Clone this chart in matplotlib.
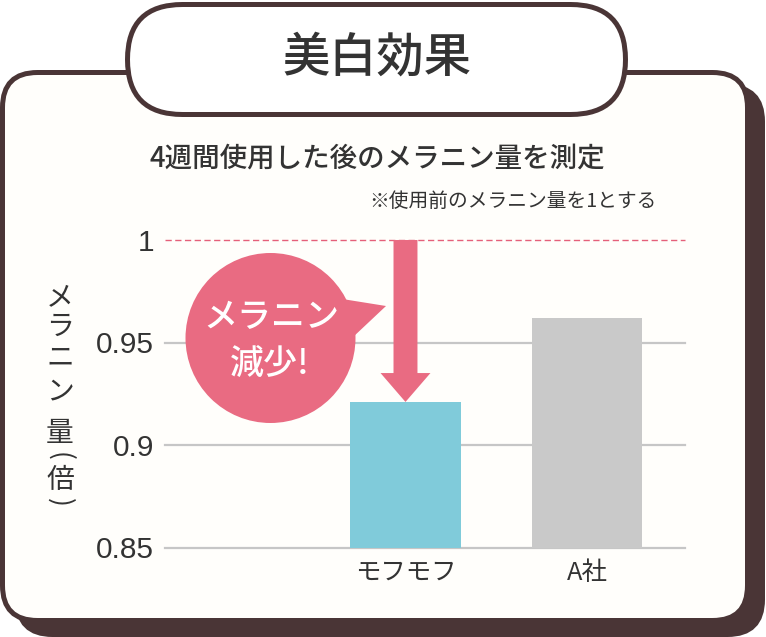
import matplotlib
matplotlib.use("Agg")
import matplotlib.pyplot as plt
from matplotlib.patches import FancyBboxPatch, Circle, Polygon

plt.rcParams['font.family'] = ['Noto Sans CJK JP', 'DejaVu Sans']

# data
categories = ["モフモフ", "A社"]
values = [0.921, 0.962]
bar_colors = ["#80cbda", "#c9c9c9"]
yticks = [0.85, 0.9, 0.95]
ytick_labels = ["0.85", "0.9", "0.95", "1"]
baseline = 1.0

title = "美白効果"
subtitle = "4週間使用した後のメラニン量を測定"
note = "※使用前のメラニン量を1とする"
ylabel_chars = ["メ", "ラ", "ニ", "ン", "量", "(", "倍", ")"]
bubble_lines = ["メラニン", "減少!"]

W, H = 766, 637
DARK = "#4a3536"
PINK = "#e96b82"
TXT = "#333333"

fig = plt.figure(figsize=(W / 100, H / 100), dpi=100)
fig.patch.set_facecolor("white")

# background layer in pixel coords
bg = fig.add_axes([0, 0, 1, 1], zorder=0)
bg.set_xlim(0, W)
bg.set_ylim(H, 0)
bg.axis("off")

# shadow + frame
bg.add_patch(FancyBboxPatch((17.5, 86.5), 745, 548, boxstyle="round,pad=0,rounding_size=35",
                            fc=DARK, ec=DARK, lw=3.6))
bg.add_patch(FancyBboxPatch((2.5, 72.5), 745, 548, boxstyle="round,pad=0,rounding_size=35",
                            fc="#fffefb", ec=DARK, lw=3.6))
# title pill
bg.add_patch(FancyBboxPatch((127.5, 4.5), 498, 110, boxstyle="round,pad=0,rounding_size=55",
                            fc="white", ec=DARK, lw=3.6))
bg.text(377, 58, title, fontsize=34, fontweight="medium", color=TXT, ha="center", va="center")
bg.text(377, 158, subtitle, fontsize=19.8, fontweight="medium", color=TXT, ha="center", va="center")
bg.text(657, 201, note, fontsize=14.2, color=TXT, ha="right", va="center")

# vertical y label
ylab_y = [297, 327, 357, 391, 433, 456, 480, 502]
for ch, yy in zip(ylabel_chars, ylab_y):
    if ch in "()":
        bg.text(60, yy, ch, fontsize=19, color=TXT, ha="center", va="center", rotation=-90)
    else:
        bg.text(60, yy, ch, fontsize=20, color=TXT, ha="center", va="center")

# chart axes
L, R, T, B = 165, 685, 240, 547.5
ax = fig.add_axes([L / W, 1 - B / H, (R - L) / W, (B - T) / H], zorder=1)
ax.patch.set_alpha(0)
x = list(range(len(categories)))
ax.set_xlim(-1.325, 1.54)
ax.set_ylim(0.85, 1.0)
for s in ax.spines.values():
    s.set_visible(False)

for yv in yticks:
    ax.axhline(yv, color="#c6c6c6", lw=1.6, zorder=1, clip_on=False)
ax.axhline(baseline, color="#e5607a", lw=1.0, ls=(0, (4.5, 2.5)), zorder=1, clip_on=False)

ax.bar(x, values, width=0.61, color=bar_colors, zorder=2)

ax.set_yticks(yticks + [baseline])
ax.set_yticklabels(ytick_labels, fontsize=21.5, family="Liberation Sans", color=TXT)
ax.set_xticks(x)
ax.set_xticklabels(categories, fontsize=18.3, color=TXT)
ax.tick_params(axis="both", length=0)
ax.tick_params(axis="y", pad=8)
ax.tick_params(axis="x", pad=9)

# arrow from baseline down to our bar
ax.arrow(x[0], baseline, 0, values[0] - baseline, width=0.132, head_width=0.275,
         head_length=0.0141, length_includes_head=True, fc=PINK, ec="none", zorder=3)

# top layer: speech bubble
top = fig.add_axes([0, 0, 1, 1], zorder=2)
top.set_xlim(0, W)
top.set_ylim(H, 0)
top.axis("off")
top.add_patch(Circle((270.5, 338), 85, fc=PINK, ec="none"))
top.add_patch(Polygon([(336, 298), (386, 306), (352, 338)], closed=True, fc=PINK, ec="none"))
top.text(271, 318, bubble_lines[0], fontsize=24.5, fontweight="medium", color="white",
         ha="center", va="center")
top.text(270, 364, bubble_lines[1], fontsize=24.5, fontweight="medium", color="white",
         ha="center", va="center")

fig.savefig("out.png", dpi=100)
